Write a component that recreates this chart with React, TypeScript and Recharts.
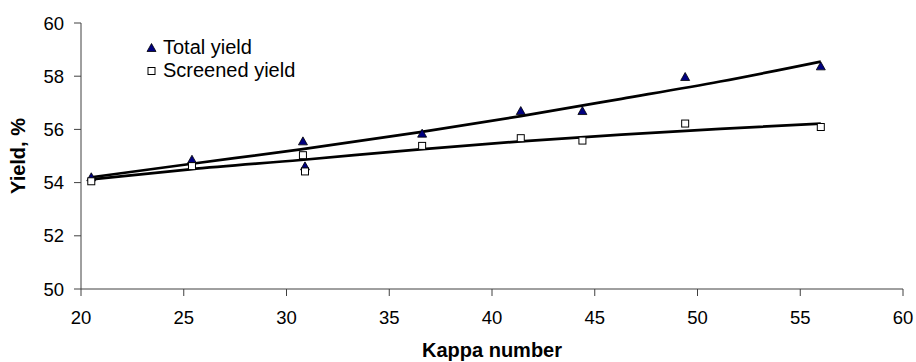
import {
  ComposedChart,
  Scatter,
  Line,
  XAxis,
  YAxis,
  Legend
} from "recharts"

// measured points
const kappa = [20.5, 25.4, 30.8, 30.9, 36.6, 41.4, 44.4, 49.4, 56.0]
const totalYield = [54.2, 54.86, 55.55, 54.61, 55.84, 56.69, 56.69, 57.97, 58.37]
const screenedYield = [54.05, 54.62, 55.03, 54.42, 55.38, 55.67, 55.58, 56.22, 56.09]

// trend lines
const trendKappa = [20.5, 25.3, 30.7, 36.5, 41.4, 46.3, 51.1, 56.0]
const totalTrend = [54.2, 54.7, 55.25, 55.9, 56.5, 57.15, 57.8, 58.55]
const screenedTrend = [54.12, 54.5, 54.85, 55.25, 55.55, 55.8, 56.02, 56.22]

const xTicks = [20, 25, 30, 35, 40, 45, 50, 55, 60]
const yTicks = [50, 52, 54, 56, 58, 60]

const totalPts = kappa.map((x, i) => ({ x, y: totalYield[i] }))
const screenedPts = kappa.map((x, i) => ({ x, y: screenedYield[i] }))
const totalLine = trendKappa.map((x, i) => ({ x, y: totalTrend[i] }))
const screenedLine = trendKappa.map((x, i) => ({ x, y: screenedTrend[i] }))

const FONT = '"Liberation Sans", Arial, sans-serif'
const AXIS = "#404040"

const Triangle = (props: any) => {
  const { cx, cy } = props
  return (
    <path
      d={`M${cx},${cy - 4.5} L${cx + 4.5},${cy + 3.5} L${cx - 4.5},${cy + 3.5} Z`}
      fill="#000080"
      stroke="#000"
      strokeWidth={0.8}
    />
  )
}

const Square = (props: any) => {
  const { cx, cy } = props
  return <rect x={cx - 3.5} y={cy - 3.5} width={7} height={7} fill="#fff" stroke="#000" strokeWidth={1} />
}

const LegendBox = () => (
  <div style={{ fontFamily: FONT, fontSize: 20, color: "#000", lineHeight: "23px" }}>
    <div style={{ display: "flex", alignItems: "center" }}>
      <svg width={20} height={12}>
        <path d="M8.5,1.5 L13,9.5 L4,9.5 Z" fill="#000080" stroke="#000" strokeWidth={0.8} />
      </svg>
      <span>Total yield</span>
    </div>
    <div style={{ display: "flex", alignItems: "center" }}>
      <svg width={20} height={12}>
        <rect x={5} y={2.5} width={7} height={7} fill="#fff" stroke="#000" strokeWidth={1} />
      </svg>
      <span>Screened yield</span>
    </div>
  </div>
)

export default function App() {
  return (
    <div style={{ position: "absolute", left: 0, top: 0, background: "#fff" }}>
      <ComposedChart width={916} height={362} margin={{ top: 23, right: 13, left: 0, bottom: 0 }}>
        <XAxis
          type="number"
          dataKey="x"
          domain={[20, 60]}
          ticks={xTicks}
          allowDataOverflow
          height={73}
          tickSize={7}
          tickMargin={15}
          stroke={AXIS}
          tick={{ fill: "#000", fontSize: 18.5, fontFamily: FONT }}
          label={{
            value: "Kappa number",
            position: "insideBottom",
            offset: 5,
            style: { fill: "#000", fontSize: 20, fontWeight: "bold", fontFamily: FONT }
          }}
        />
        <YAxis
          type="number"
          dataKey="y"
          domain={[50, 60]}
          ticks={yTicks}
          allowDataOverflow
          width={81}
          tickSize={7}
          tickMargin={10}
          stroke={AXIS}
          tick={{ fill: "#000", fontSize: 18.5, fontFamily: FONT }}
          label={{
            value: "Yield, %",
            angle: -90,
            position: "insideLeft",
            offset: 18,
            style: { textAnchor: "middle", fill: "#000", fontSize: 20, fontWeight: "bold", fontFamily: FONT }
          }}
        />
        <Legend
          layout="vertical"
          align="center"
          verticalAlign="middle"
          wrapperStyle={{ left: 143, top: 36, width: "auto", height: "auto" }}
          content={() => <LegendBox />}
        />
        <Line
          data={totalLine}
          dataKey="y"
          type="monotone"
          stroke="#000"
          strokeWidth={2.7}
          dot={false}
          legendType="none"
          isAnimationActive={false}
        />
        <Line
          data={screenedLine}
          dataKey="y"
          type="monotone"
          stroke="#000"
          strokeWidth={2.7}
          dot={false}
          legendType="none"
          isAnimationActive={false}
        />
        <Scatter name="Total yield" data={totalPts} shape={Triangle} isAnimationActive={false} />
        <Scatter name="Screened yield" data={screenedPts} shape={Square} isAnimationActive={false} />
      </ComposedChart>
    </div>
  )
}
